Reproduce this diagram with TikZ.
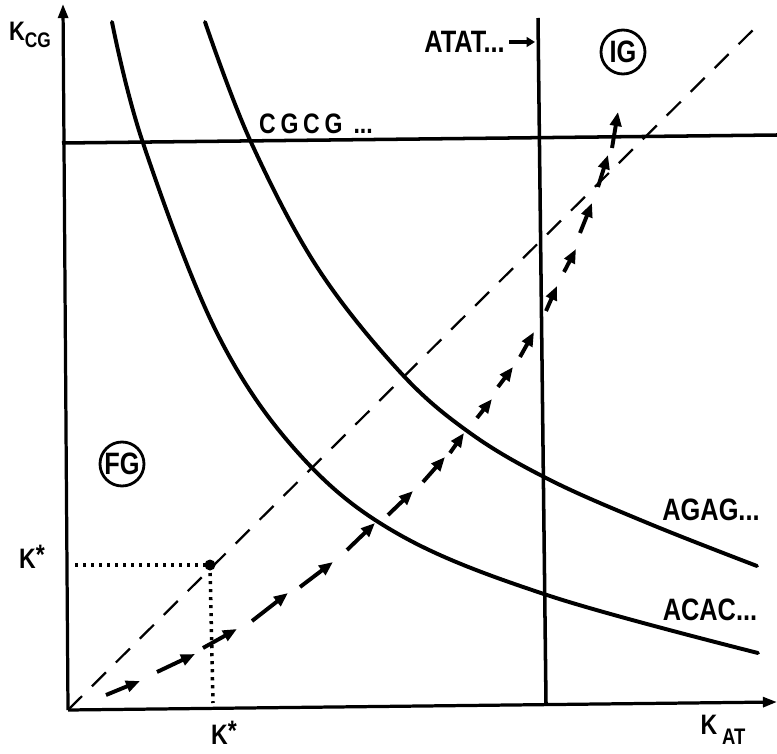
\documentclass[tikz,border=0pt]{standalone}
\usepackage{fontspec}
\setmainfont{Liberation Sans}
\newfontfamily\lblfont[FakeStretch=0.82]{Liberation Sans}
\usepackage{tikz}
\usetikzlibrary{
  arrows.meta,
  positioning
}
\tikzset{
  axis/.style={
    line width=2.3pt,
    -{Triangle[length=10pt,width=7pt]}
  },
  boundary/.style={
    line width=2.5pt
  },
  isoline/.style={
    line width=2.8pt,
    line cap=round
  },
  diagonal/.style={
    line width=1.6pt,
    dash pattern=on 14pt off 10pt
  },
  guide/.style={
    line width=2.5pt,
    dash pattern=on 2.2pt off 3.5pt
  },
  flow/.style={
    line width=2.8pt,
    -{Triangle[length=10pt,width=8pt]}
  },
  pointer/.style={
    line width=2.8pt,
    -{Triangle[length=6pt,width=7pt]}
  },
  seqlabel/.style={
    font=\lblfont\bfseries\fontsize{22}{22}\selectfont,
    inner sep=0pt
  },
  klabel/.style={
    font=\lblfont\bfseries\fontsize{20}{20}\selectfont,
    inner sep=0pt
  },
  region/.style={
    draw,
    circle,
    line width=2pt,
    minimum size=1.1cm,
    inner sep=0pt,
    font=\lblfont\bfseries\fontsize{22}{22}\selectfont
  }
}

\begin{document}
\begin{tikzpicture}[x=0.025cm, y=-0.025cm]

  \useasboundingbox (0,0) rectangle (777,754);

  % axes
  \coordinate (origin) at (68,710);
  \coordinate (ytop) at (63,4);
  \coordinate (xend) at (777,702);
  \draw[axis] (origin) -- (ytop);
  \draw[axis] (origin) -- (xend);

  % CGCG and ATAT boundaries
  \coordinate (cgLeft) at (62,143);
  \coordinate (cgRight) at (777,135);
  \draw[boundary] (cgLeft) -- (cgRight);

  \coordinate (atTop) at (538,18);
  \coordinate (atBottom) at (546,703);
  \draw[boundary] (atTop) -- (atBottom);

  % AGAG and ACAC curves
  \draw[isoline] plot[smooth, tension=0.6] coordinates {
    (205,22) (250,140) (317,267) (400,372) (470,433)
    (550,480) (650,524) (757,566)
  };
  \draw[isoline] plot[smooth, tension=0.6] coordinates {
    (112,22) (143,143) (217,333) (300,455) (400,535)
    (550,596) (758,653)
  };

  % diagonal and K* point
  \coordinate (kstar) at (210,565);
  \coordinate (diagEnd) at (762,21);
  \draw[diagonal] (origin) -- (diagEnd);

  \coordinate (kstarLeft) at (75,565);
  \coordinate (kstarDown) at (213,703);
  \draw[guide] (kstarLeft) -- (kstar);
  \draw[guide] (kstar) -- (kstarDown);
  \fill (kstar) circle (5.5);

  % path of arrows
  \foreach \xa/\ya/\xb/\yb in {
    106/695/140/681, 157/672/195/654, 203/648/237/629,
    252/621/288/593, 300/587/333/562, 347/550/375/523,
    388/515/413/491, 423/482/445/457, 450/453/464/433,
    477/418/492/399, 498/387/513/367, 520/357/534/332,
    546/311/557/286, 564/272/576/249, 580/233/592/203,
    598/187/608/155, 612/148/618/112
  }{
    \draw[flow] (\xa,\ya) -- (\xb,\yb);
  }

  % labels
  \node[
    klabel,
    font=\lblfont\bfseries\fontsize{19}{19}\selectfont
  ] (kcg) at (30,35) {
    K\raisebox{-5pt}{\fontsize{15}{15}\selectfont CG}
  };

  \node[klabel] (kstarY) at (32,557) {
    K\raisebox{3pt}{\fontsize{20}{20}\selectfont *}
  };

  \node[klabel] (kstarX) at (224,733) {
    K\raisebox{3pt}{\fontsize{20}{20}\selectfont *}
  };

  \node[klabel] (kat) at (723,730) {
    K\,\raisebox{-7pt}{\fontsize{16}{16}\selectfont AT}
  };

  \node[
    seqlabel,
    anchor=east
  ] (atat) at (505,42) {
    ATAT...
  };
  \coordinate (atatTip) at (535,42);
  \draw[pointer] ([xshift=3pt]atat.east) -- (atatTip);

  \node[
    seqlabel,
    font=\lblfont\bfseries\fontsize{20}{20}\selectfont
  ] (cgcg) at (316,124) {
    C\,G\,C\,G\, ...
  };

  \node[seqlabel] (agag) at (711,510) {
    AGAG...
  };

  \node[seqlabel] (acac) at (710,610) {
    ACAC...
  };

  \node[region] (fg) at (122,464) {FG};
  \node[region] (ig) at (623,52) {IG};

\end{tikzpicture}
\end{document}
